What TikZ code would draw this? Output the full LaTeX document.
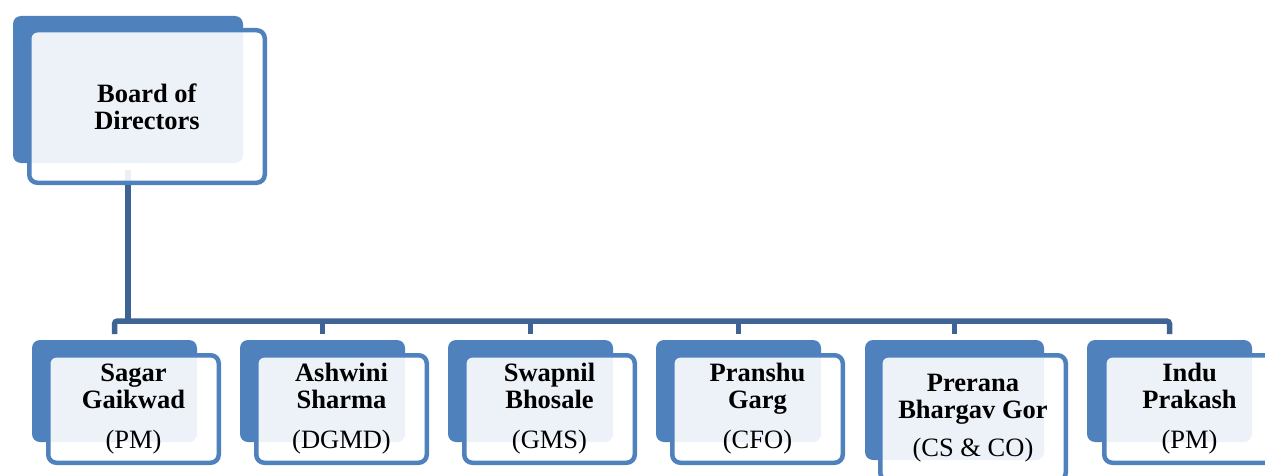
\documentclass[tikz,border=0pt]{standalone}
\usepackage{fontspec}
\setmainfont{Liberation Serif}
\pgfdeclarelayer{bg}
\pgfsetlayers{bg,main}
\definecolor{blueA}{RGB}{79,129,189}
\definecolor{connc}{RGB}{62,100,150}
\newcommand{\nm}[1]{\textbf{#1}}
\tikzset{
  backbox/.style={fill=blueA, draw=none, rounded corners=8pt, inner sep=0pt, outer sep=0pt},
  frontbox/.style={draw=blueA, line width=4.5pt, fill=white, fill opacity=0.9, text opacity=1,
    rounded corners=8pt, inner sep=0pt, outer sep=0pt, align=center,
    font=\fontsize{26.5}{27}\selectfont},
  smallback/.style={backbox, minimum width=165pt, minimum height=102pt},
  smallfront/.style={frontbox, minimum width=170.5pt, minimum height=107.5pt},
  conn/.style={draw=connc, line width=5.5pt, rounded corners=3pt}
}
\begin{document}
\begin{tikzpicture}[x=1pt,y=1pt]
\useasboundingbox (0,0) rectangle (1265,475);
\clip (0,0) rectangle (1265,475);
\coordinate (bus) at (0,154);
% Board
\node[backbox, minimum width=230pt, minimum height=147pt] (b0) at (128,385.5) {};
\node[frontbox, minimum width=235.5pt, minimum height=152.5pt] (f0) at (147,368.5) {\nm{Board of}\\\nm{Directors}};
% Back boxes
\node[smallback] (p1) at (114.5,84) {};
\node[smallback] (p2) at (322.5,84) {};
\node[smallback] (p3) at (530.5,84) {};
\node[smallback] (p4) at (738.5,84) {};
\node[backbox, minimum width=179pt, minimum height=120pt] (p5) at (954.5,75) {};
\node[smallback] (p6) at (1169.5,84) {};
% Front boxes
\node[smallfront] (q1) at (133.5,66) {\nm{Sagar}\\\nm{Gaikwad}\\[13pt](PM)};
\node[smallfront] (q2) at (341.5,66) {\nm{Ashwini}\\\nm{Sharma}\\[13pt](DGMD)};
\node[smallfront] (q3) at (549.5,66) {\nm{Swapnil}\\\nm{Bhosale}\\[13pt](GMS)};
\node[smallfront] (q4) at (757.5,66) {\nm{Pranshu}\\\nm{Garg}\\[13pt](CFO)};
\node[frontbox, minimum width=185.5pt, minimum height=125.5pt] (q5) at (973,57) {\nm{Prerana}\\\nm{Bhargav Gor}\\[11pt](CS \& CO)};
\node[smallfront] (q6) at (1189.5,66) {\nm{Indu}\\\nm{Prakash}\\[13pt](PM)};
% Connectors
\begin{pgfonlayer}{bg}
\draw[conn] ([yshift=-7pt]b0.south) -- (b0.south |- bus);
\draw[conn] ([yshift=6pt]p1.north) -- (p1.north |- bus) -- (p6.north |- bus) -- ([yshift=6pt]p6.north);
\draw[conn] (p2.north |- bus) -- ([yshift=6pt]p2.north);
\draw[conn] (p3.north |- bus) -- ([yshift=6pt]p3.north);
\draw[conn] (p4.north |- bus) -- ([yshift=6pt]p4.north);
\draw[conn] (p5.north |- bus) -- ([yshift=6pt]p5.north);
\end{pgfonlayer}
\end{tikzpicture}
\end{document}
